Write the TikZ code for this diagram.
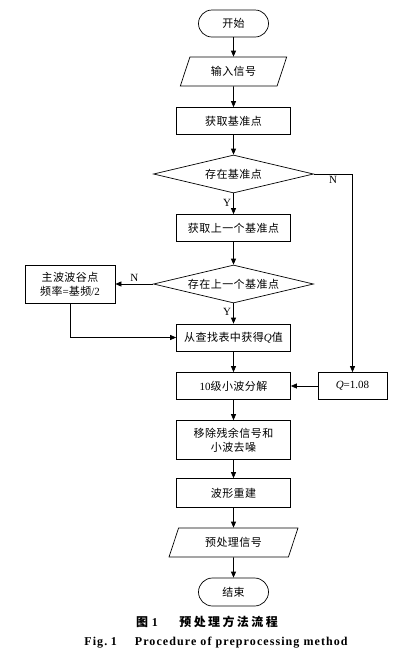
\documentclass[tikz,border=0pt]{standalone}
\usepackage{fontspec}
\setmainfont{Liberation Serif}
\newfontfamily\zh[LetterSpace=4]{Noto Sans CJK SC}
\newfontfamily\zhcap[LetterSpace=20]{Noto Sans CJK SC}
\newfontfamily\encap[LetterSpace=9]{Liberation Serif}
\usetikzlibrary{shapes.geometric,arrows.meta}

\begin{document}
\begin{tikzpicture}[x=1pt,y=-1pt,line width=0.7pt,>={Triangle[length=6pt,width=5pt]}]
        \tikzstyle{stepbox}=[rectangle,draw,minimum width=114pt,minimum height=27pt,inner sep=0pt,align=center,font=\zh\fontsize{11}{14}\selectfont]
        \tikzstyle{term}=[stepbox,rounded corners=13.5pt,minimum width=70pt]
        \tikzstyle{io}=[stepbox,trapezium,trapezium left angle=64,trapezium right angle=116,trapezium stretches=true,minimum height=29pt]
        \tikzstyle{test}=[stepbox,diamond,aspect=4.2,minimum width=160pt,minimum height=38pt]
        \tikzstyle{yn}=[font=\fontsize{11}{13}\selectfont,inner sep=2pt]

        \useasboundingbox (0,0) rectangle (420,657);

        \node[term] (start) at (233.5,23.5) {开始};
        \node[io,minimum width=107pt] (in) at (233.5,71.5) {输入信号};
        \node[stepbox] (get) at (233.5,121) {获取基准点};
        \node[test] (d1) at (233.5,174) {存在基准点};
        \node[stepbox] (getprev) at (233.5,228) {获取上一个基准点};
        \node[test] (d2) at (233.5,284) {存在上一个基准点};
        \node[stepbox,minimum width=90pt,minimum height=38pt] (main) at (70,284) {主波波谷点\\频率{\rmfamily =}基频{\rmfamily /2}};
        \node[stepbox] (lookup) at (233.5,337.5) {从查找表中获得{\rmfamily\itshape Q}值};
        \node[stepbox] (dec) at (233.5,386) {{\rmfamily 10}级小波分解};
        \node[stepbox,minimum width=69pt,font=\rmfamily\fontsize{11}{14}\selectfont] (q) at (352.5,386) {\textit{Q}=1.08};
        \node[stepbox,minimum height=39pt] (rm) at (233.5,440) {移除残余信号和\\小波去噪};
        \node[stepbox,minimum height=29pt] (rec) at (233.5,493) {波形重建};
        \node[io,minimum width=129pt] (out) at (233.5,542.5) {预处理信号};
        \node[term,minimum height=28pt,rounded corners=14pt] (end) at (233.5,592) {结束};

        \foreach \from/\to in {start/in, in/get, get/d1, getprev/d2, lookup/dec, dec/rm, rm/rec, rec/out, out/end}
                \draw[->] (\from) -- (\to);

        \draw[->] (d1) -- node[yn,left,pos=0.45] {Y} (getprev);
        \draw[->] (d2) -- node[yn,left,pos=0.4] {Y} (lookup);
        \draw[->] (d1.east) -| node[yn,below,pos=0.25] {N} (q);
        \draw[->] (d2.west) -- node[yn,above] {N} (main);
        \draw[->] (main.south) |- (lookup.west);
        \draw[->] (q) -- (dec);

        \node (cap1) at (207,622) {\zhcap\bfseries\fontsize{12}{14}\selectfont 图\hspace{0.3em}{\rmfamily 1}\hspace{1.8em}预处理方法流程};
        \node (cap2) at (216,643) {\encap\bfseries\fontsize{12}{14}\selectfont Fig.\hspace{0.3em}1\hspace{1.5em}Procedure of preprocessing method};
\end{tikzpicture}
\end{document}
